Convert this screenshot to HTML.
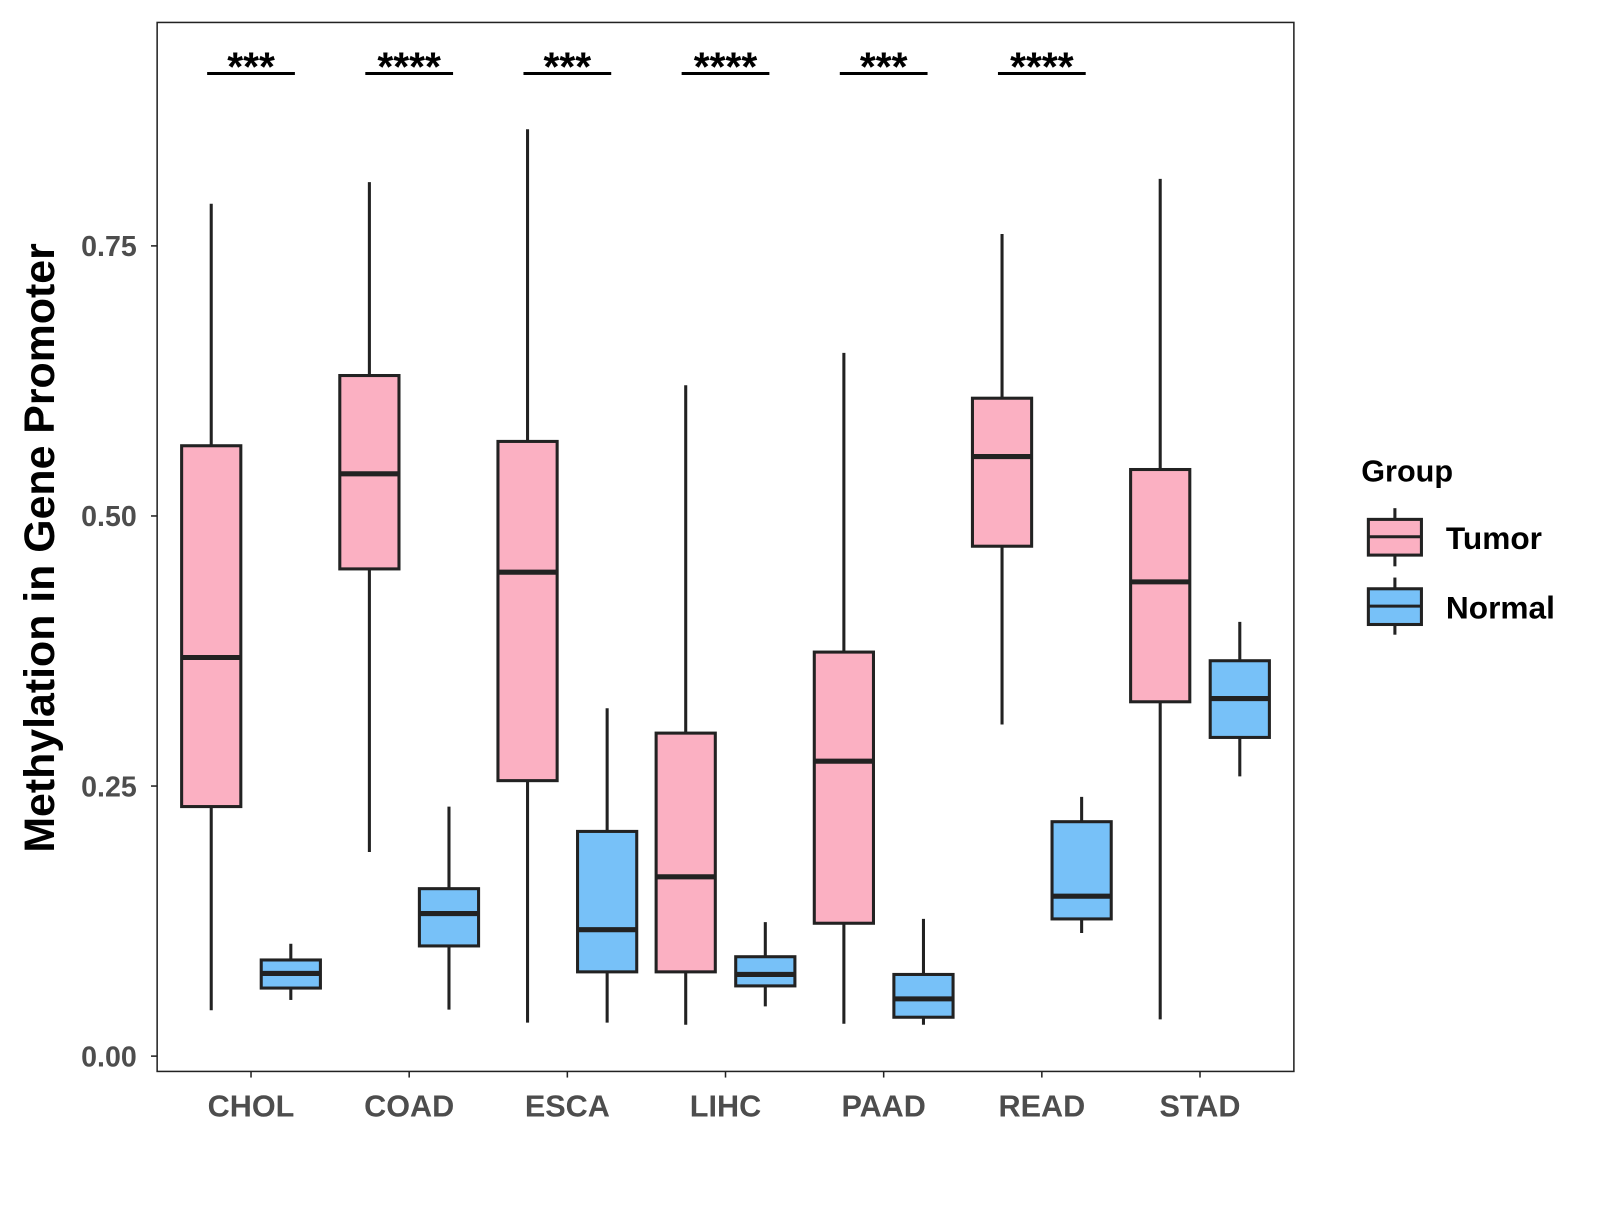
<!DOCTYPE html>
<html><head><meta charset="utf-8"><style>
body{margin:0;background:#fff}
svg text{font-family:"Liberation Sans",Arial,sans-serif;font-weight:bold}
</style></head><body>
<svg id="chart" width="1600" height="1200" viewBox="0 0 1568 1176" xmlns="http://www.w3.org/2000/svg">
<rect x="0" y="0" width="1568" height="1176" fill="#fff"/>
<rect x="154" y="22" width="1114" height="1028" fill="none" stroke="#222" stroke-width="1.5"/>
<g id="marks"></g>
<text transform="translate(53,537) rotate(-90)" text-anchor="middle" font-size="42" fill="#000">Methylation in Gene Promoter</text>
<g>
<text x="1334" y="472" font-size="30" fill="#000">Group</text>
<g>
<line x1="1367" y1="498" x2="1367" y2="555" stroke="#222" stroke-width="3"/>
<rect x="1341" y="509" width="52" height="35" fill="#fbb0c2" stroke="#222" stroke-width="3"/>
<line x1="1341" y1="526" x2="1393" y2="526" stroke="#222" stroke-width="3"/>
<text x="1417" y="538" font-size="31" fill="#000">Tumor</text></g>
<g>
<line x1="1367" y1="566" x2="1367" y2="622" stroke="#222" stroke-width="3"/>
<rect x="1341" y="577" width="52" height="35" fill="#77c1f8" stroke="#222" stroke-width="3"/>
<line x1="1341" y1="594" x2="1393" y2="594" stroke="#222" stroke-width="3"/>
<text x="1417" y="606" font-size="31" fill="#000">Normal</text></g>
</g>
</svg>
<script>
const categories=["CHOL","COAD","ESCA","LIHC","PAAD","READ","STAD"];
const tumorStats=[[0.0425,0.231,0.369,0.565,0.789],[0.189,0.451,0.539,0.630,0.809],[0.031,0.255,0.448,0.569,0.858],[0.029,0.078,0.166,0.299,0.621],[0.030,0.123,0.273,0.374,0.651],[0.307,0.472,0.555,0.609,0.761],[0.034,0.328,0.439,0.543,0.812]];
const normalStats=[[0.052,0.063,0.0765,0.089,0.104],[0.043,0.102,0.132,0.155,0.231],[0.031,0.078,0.117,0.208,0.322],[0.046,0.065,0.0756,0.092,0.124],[0.029,0.036,0.053,0.0756,0.127],[0.114,0.127,0.148,0.217,0.240],[0.259,0.295,0.331,0.366,0.402]];
const significance=["***","****","***","****","***","****",""];
const yTicks=[0,0.25,0.5,0.75];
const yTickLabels=["0.00","0.25","0.50","0.75"];
const NS="http://www.w3.org/2000/svg";
const g=document.getElementById('marks');
function yS(v){return 1035-v*1058.7;}
function xS(i){return 246+i*155;}
function mk(t,a,p){const e=document.createElementNS(NS,t);for(const k in a)e.setAttribute(k,a[k]);(p||g).appendChild(e);return e;}
yTicks.forEach((v,i)=>{
 const t=mk('line',{x1:148,x2:154,y1:yS(v),y2:yS(v),stroke:'#222','stroke-width':1.5});
 
 
 const l=mk('text',{x:134,y:yS(v)+10,'text-anchor':'end','font-size':28,fill:'#4d4d4d'});
 l.textContent=yTickLabels[i];
 
 
});
function box(s,cx,fill,name){
 const grp=mk('g',{});
 
 
 mk('line',{x1:cx,x2:cx,y1:yS(s[0]),y2:yS(s[4]),stroke:'#222','stroke-width':3},grp);
 mk('rect',{x:cx-29,width:58,y:yS(s[3]),height:yS(s[1])-yS(s[3]),fill:fill,stroke:'#222','stroke-width':3},grp);
 mk('line',{x1:cx-29,x2:cx+29,y1:yS(s[2]),y2:yS(s[2]),stroke:'#222','stroke-width':5},grp);
}
categories.forEach((c,i)=>{
 const cx=xS(i);
 const t=mk('line',{x1:cx,x2:cx,y1:1050,y2:1056,stroke:'#222','stroke-width':1.5});
 
 
 const l=mk('text',{x:cx,y:1094,'text-anchor':'middle','font-size':30,fill:'#4d4d4d'});
 l.textContent=c;
 
 
 box(tumorStats[i],cx-39,'#fbb0c2','box-tumor-'+c.toLowerCase());
 box(normalStats[i],cx+39,'#77c1f8','box-normal-'+c.toLowerCase());
 if(significance[i]){
  const b=mk('line',{x1:cx-43,x2:cx+43,y1:72,y2:72,stroke:'#000','stroke-width':3});
  
  
  const s=mk('text',{x:cx,y:79,'text-anchor':'middle','font-size':40,fill:'#000'});
  s.textContent=significance[i];
  
  
 }
});
</script>
</body></html>
